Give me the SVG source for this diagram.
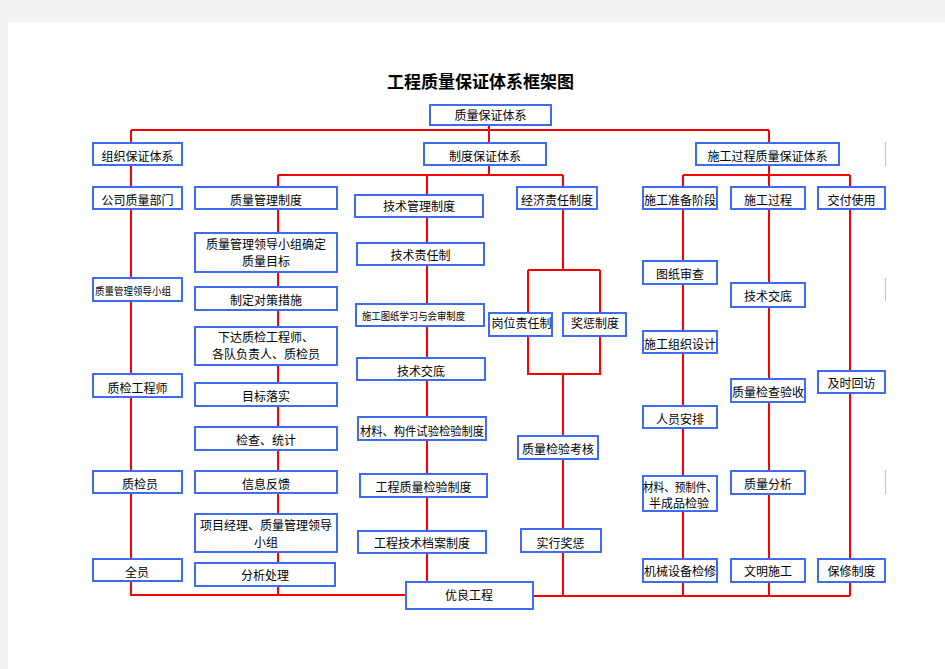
<svg xmlns="http://www.w3.org/2000/svg" width="945" height="669" viewBox="0 0 945 669">
<style>
.bx{fill:#ffffff;stroke:#3d6cf2;stroke-width:2}
.t{font-family:"Noto Sans CJK SC","Liberation Sans",sans-serif;font-size:12px;fill:#000;text-anchor:middle}
.s{font-family:"Noto Sans CJK SC","Liberation Sans",sans-serif;font-size:10px;fill:#000}
.ln{stroke:#ff0000;stroke-width:2;fill:none}
.art{stroke:#b4bfdc;stroke-width:1}
</style>
<rect x="0" y="0" width="945" height="669" fill="#f3f3f3"/>
<rect x="8" y="22" width="937" height="647" fill="#ffffff"/>
<text x="480.5" y="88" font-family="'Noto Sans CJK SC',sans-serif" font-size="17" font-weight="bold" text-anchor="middle">工程质量保证体系框架图</text>

<g id="connectors">
<path class="ln" d="M489,125 V175 M131,130 H769 M131,130 V595 H406 M533,596 H850 M278,175 H563 M427,175 V582 M278,175 V595 M563,175 V270 M528,270 H600 M528,270 V374 H600 V270 M563,374 V596 M683,175 H850 M769,130 V596 M683,175 V596 M850,175 V596"/>
</g>
<g id="artifacts">
<line class="art" x1="885.5" y1="142" x2="885.5" y2="166"/>
<line class="art" x1="885.5" y1="278" x2="885.5" y2="301"/>
<line class="art" x1="885.5" y1="470" x2="885.5" y2="494"/>
</g>

<g id="n-top"><rect class="bx" x="430" y="105" width="121" height="20"/><text class="t" x="490.5" y="119.5">质量保证体系</text></g>
<g id="n-org"><rect class="bx" x="93" y="143" width="89" height="22"/><text class="t" x="137.5" y="161">组织保证体系</text></g>
<g id="n-sys"><rect class="bx" x="424" y="143" width="122" height="22"/><text class="t" x="485" y="161">制度保证体系</text></g>
<g id="n-proc"><rect class="bx" x="696" y="143" width="143" height="22"/><text class="t" x="767.5" y="161">施工过程质量保证体系</text></g>

<g id="n-dept"><rect class="bx" x="93" y="187" width="89" height="22"/><text class="t" x="137.5" y="204.5">公司质量部门</text></g>
<g id="n-qmgmt"><rect class="bx" x="195" y="187" width="142" height="22"/><text class="t" x="266" y="204.5">质量管理制度</text></g>
<g id="n-tech"><rect class="bx" x="355" y="195" width="128" height="22"/><text class="t" x="419" y="211">技术管理制度</text></g>
<g id="n-econ"><rect class="bx" x="517" y="187" width="80" height="22"/><text class="t" x="557" y="204.5">经济责任制度</text></g>
<g id="n-prep"><rect class="bx" x="643" y="187" width="74" height="22"/><text class="t" x="680" y="204.5">施工准备阶段</text></g>
<g id="n-const"><rect class="bx" x="731" y="187" width="74" height="22"/><text class="t" x="768" y="204.5">施工过程</text></g>
<g id="n-deliv"><rect class="bx" x="818" y="187" width="67" height="22"/><text class="t" x="851.5" y="204.5">交付使用</text></g>

<g id="n-c1a"><rect class="bx" x="93" y="278" width="89" height="23"/><text class="s" x="95" y="294.5" textLength="76" lengthAdjust="spacingAndGlyphs">质量管理领导小组</text></g>
<g id="n-c1b"><rect class="bx" x="93" y="374" width="89" height="23"/><text class="t" x="137.5" y="393">质检工程师</text></g>
<g id="n-c1c"><rect class="bx" x="93" y="471" width="89" height="22"/><text class="t" x="140" y="489">质检员</text></g>
<g id="n-c1d"><rect class="bx" x="93" y="559" width="89" height="22"/><text class="t" x="137" y="577">全员</text></g>

<g id="n-c2a"><rect class="bx" x="195" y="233" width="142" height="39"/><text class="t" x="266" y="248.5">质量管理领导小组确定</text><text class="t" x="266" y="265.5">质量目标</text></g>
<g id="n-c2b"><rect class="bx" x="195" y="287" width="142" height="23"/><text class="t" x="266" y="305">制定对策措施</text></g>
<g id="n-c2c"><rect class="bx" x="195" y="327" width="142" height="38"/><text class="t" x="266" y="341.5">下达质检工程师、</text><text class="t" x="266" y="358.5">各队负责人、质检员</text></g>
<g id="n-c2d"><rect class="bx" x="195" y="383" width="142" height="23"/><text class="t" x="266" y="401">目标落实</text></g>
<g id="n-c2e"><rect class="bx" x="195" y="427" width="142" height="23"/><text class="t" x="266" y="445">检查、统计</text></g>
<g id="n-c2f"><rect class="bx" x="195" y="471" width="142" height="22"/><text class="t" x="266" y="489">信息反馈</text></g>
<g id="n-c2g"><rect class="bx" x="195" y="514" width="142" height="38"/><text class="t" x="266" y="529.5">项目经理、质量管理领导</text><text class="t" x="266" y="546.5">小组</text></g>
<g id="n-c2h"><rect class="bx" x="195" y="563" width="140" height="23"/><text class="t" x="265" y="579.5">分析处理</text></g>

<g id="n-c3a"><rect class="bx" x="357" y="243" width="127" height="22"/><text class="t" x="420.5" y="259.5">技术责任制</text></g>
<g id="n-c3b"><rect class="bx" x="356" y="304" width="128" height="22"/><text class="s" x="362" y="320" textLength="103" lengthAdjust="spacingAndGlyphs">施工图纸学习与会审制度</text></g>
<g id="n-c3c"><rect class="bx" x="357" y="358" width="128" height="22"/><text class="t" x="421" y="375.5">技术交底</text></g>
<g id="n-c3d"><rect class="bx" x="358" y="417" width="128" height="23"/><text class="t" x="422" y="436" textLength="124" lengthAdjust="spacingAndGlyphs">材料、构件试验检验制度</text></g>
<g id="n-c3e"><rect class="bx" x="360" y="474" width="127" height="23"/><text class="t" x="423.5" y="492">工程质量检验制度</text></g>
<g id="n-c3f"><rect class="bx" x="358" y="531" width="128" height="22"/><text class="t" x="422" y="548">工程技术档案制度</text></g>

<g id="n-c4a"><rect class="bx" x="489" y="313" width="63" height="23"/><text class="t" x="521.5" y="328">岗位责任制</text></g>
<g id="n-c4b"><rect class="bx" x="563" y="313" width="63" height="23"/><text class="t" x="595" y="328">奖惩制度</text></g>
<g id="n-c4c"><rect class="bx" x="518" y="436" width="80" height="23"/><text class="t" x="558" y="453.5">质量检验考核</text></g>
<g id="n-c4d"><rect class="bx" x="521" y="529" width="80" height="23"/><text class="t" x="560.5" y="548">实行奖惩</text></g>

<g id="n-c5a"><rect class="bx" x="643" y="261" width="74" height="23"/><text class="t" x="680" y="278.5">图纸审查</text></g>
<g id="n-c5b"><rect class="bx" x="643" y="331" width="74" height="22"/><text class="t" x="680" y="349">施工组织设计</text></g>
<g id="n-c5c"><rect class="bx" x="643" y="406" width="74" height="22"/><text class="t" x="680" y="424">人员安排</text></g>
<g id="n-c5d"><rect class="bx" x="643" y="476" width="74" height="35"/><text class="t" x="680" y="491.5" textLength="74" lengthAdjust="spacingAndGlyphs">材料、预制件、</text><text class="t" x="679" y="507.5">半成品检验</text></g>
<g id="n-c5e"><rect class="bx" x="643" y="559" width="74" height="23"/><text class="t" x="680" y="576">机械设备检修</text></g>

<g id="n-c6a"><rect class="bx" x="731" y="283" width="74" height="24"/><text class="t" x="768" y="300.5">技术交底</text></g>
<g id="n-c6b"><rect class="bx" x="731" y="379" width="74" height="23"/><text class="t" x="768" y="397">质量检查验收</text></g>
<g id="n-c6c"><rect class="bx" x="731" y="471" width="74" height="23"/><text class="t" x="768" y="488.5">质量分析</text></g>
<g id="n-c6d"><rect class="bx" x="731" y="559" width="74" height="23"/><text class="t" x="768" y="576">文明施工</text></g>

<g id="n-c7a"><rect class="bx" x="818" y="371" width="67" height="22"/><text class="t" x="851.5" y="388">及时回访</text></g>
<g id="n-c7b"><rect class="bx" x="818" y="559" width="67" height="23"/><text class="t" x="851.5" y="576">保修制度</text></g>

<g id="n-final"><rect class="bx" x="406" y="582" width="127" height="27"/><text class="t" x="469" y="599.5">优良工程</text></g>
</svg>
